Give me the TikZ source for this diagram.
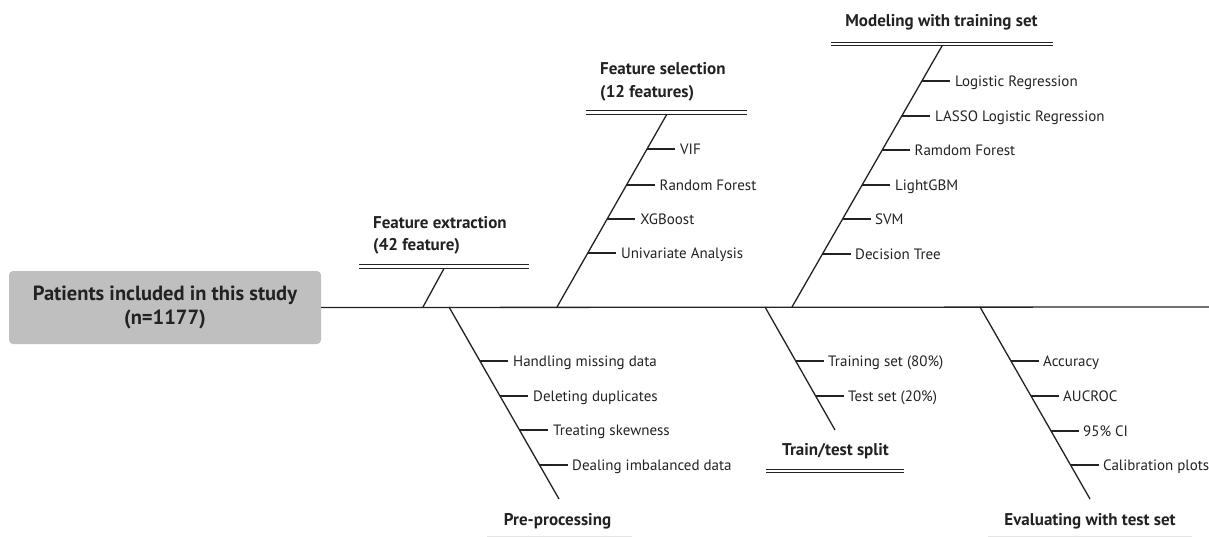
\documentclass[tikz,border=0pt]{standalone}
\usepackage{fontspec}
\setmainfont{PT Sans}
\definecolor{boxgray}{HTML}{BFBFBF}
\definecolor{ink}{HTML}{222222}
\begin{document}
\begin{tikzpicture}[x=1pt,y=-1pt,
  bone/.style={line width=1.3pt, draw=ink},
  tick/.style={line width=1.1pt, draw=ink},
  twin/.style={double, double distance=2.4pt, line width=1pt, draw=ink},
  faint/.style={line width=1pt, draw=black!10},
  item/.style={anchor=base west, inner sep=0, text=ink, font=\fontsize{15}{18}\selectfont},
  head/.style={anchor=base, inner sep=0, text=ink, font=\bfseries\fontsize{17}{20}\selectfont},
  headw/.style={anchor=base west, inner sep=0, text=ink, font=\bfseries\fontsize{17}{20}\selectfont},
  ]
\useasboundingbox (0,0) rectangle (1209,537);

% start box and spine
\node[fill=boxgray, rounded corners=4pt, minimum width=312pt, minimum height=73pt,
      inner sep=0, align=center, text=ink,
      font=\bfseries\fontsize{20.5}{24}\selectfont] (start) at (165,307.5)
      {Patients included in this study\\(n=1177)};
\coordinate (spineend) at (1209,307);
\draw[bone] (start.east) -- (spineend);

% ---------- Feature extraction ----------
\coordinate (fxb) at (423,307);
\coordinate (fxt) at (444,268.5);
\coordinate (fxl) at (359,266.5);
\coordinate (fxr) at (529,266.5);
\draw[bone] (fxb) -- (fxt);
\draw[twin] (fxl) -- (fxr);
\node[headw] (fxh1) at (373,229) {Feature extraction};
\node[headw] (fxh2) at (373,251) {(42 feature)};

% ---------- Feature selection ----------
\coordinate (fsb) at (557,307);
\coordinate (fst) at (667,114);
\coordinate (fsl) at (586,112.5);
\coordinate (fsr) at (747,112.5);
\draw[bone] (fsb) -- (fst);
\draw[twin] (fsl) -- (fsr);
\node[headw] (fsh1) at (600,75) {Feature selection};
\node[headw] (fsh2) at (600,98) {(12 features)};
\coordinate (fs1) at (647.1,149); \coordinate (fs1e) at (675.1,149);
\coordinate (fs2) at (626.5,185); \coordinate (fs2e) at (654.5,185);
\coordinate (fs3) at (607.2,219); \coordinate (fs3e) at (635.2,219);
\coordinate (fs4) at (587.8,253); \coordinate (fs4e) at (615.8,253);
\draw[tick] (fs1) -- (fs1e); \draw[tick] (fs2) -- (fs2e);
\draw[tick] (fs3) -- (fs3e); \draw[tick] (fs4) -- (fs4e);
\node[item] (fsa) at (680,154.5) {VIF};
\node[item] (fsb2) at (659.5,190.5) {Random Forest};
\node[item] (fsc) at (640.2,224.5) {XGBoost};
\node[item] (fsd) at (620.8,258.5) {Univariate Analysis};

% ---------- Modeling with training set ----------
\coordinate (mdb) at (792,307);
\coordinate (mdt) at (942,46);
\coordinate (mdl) at (831,44);
\coordinate (mdr) at (1053,44);
\draw[bone] (mdb) -- (mdt);
\draw[twin] (mdl) -- (mdr);
\node[head] (mdh) at (941.5,27) {Modeling with training set};
\coordinate (md1) at (921.9,81);  \coordinate (md1e) at (949.9,81);
\coordinate (md2) at (901.8,116); \coordinate (md2e) at (929.8,116);
\coordinate (md3) at (882.2,150); \coordinate (md3e) at (910.2,150);
\coordinate (md4) at (862.1,185); \coordinate (md4e) at (890.1,185);
\coordinate (md5) at (842.6,219); \coordinate (md5e) at (870.6,219);
\coordinate (md6) at (822.5,254); \coordinate (md6e) at (850.5,254);
\draw[tick] (md1) -- (md1e); \draw[tick] (md2) -- (md2e);
\draw[tick] (md3) -- (md3e); \draw[tick] (md4) -- (md4e);
\draw[tick] (md5) -- (md5e); \draw[tick] (md6) -- (md6e);
\node[item] (mda) at (955,86.5) {Logistic Regression};
\node[item] (mdb2) at (935,121.5) {LASSO Logistic Regression};
\node[item] (mdc) at (914.5,155.5) {Ramdom Forest};
\node[item] (mdd) at (895,190.5) {LightGBM};
\node[item] (mde) at (875,224.5) {SVM};
\node[item] (mdf) at (855,259.5) {Decision Tree};

% ---------- Pre-processing ----------
\coordinate (ppb) at (449,307);
\coordinate (ppt) at (559,499);
\draw[bone] (ppb) -- (ppt);
\node[head] (pph) at (557.5,525) {Pre-processing};
\coordinate (ppl) at (487,536); \coordinate (ppr) at (632,536);
\draw[faint] (ppl) -- (ppr);
\coordinate (pp1) at (479.9,361); \coordinate (pp1e) at (507.9,361);
\coordinate (pp2) at (500,396);   \coordinate (pp2e) at (528,396);
\coordinate (pp3) at (519.5,430); \coordinate (pp3e) at (547.5,430);
\coordinate (pp4) at (539.5,465); \coordinate (pp4e) at (567.5,465);
\draw[tick] (pp1) -- (pp1e); \draw[tick] (pp2) -- (pp2e);
\draw[tick] (pp3) -- (pp3e); \draw[tick] (pp4) -- (pp4e);
\node[item] (ppa) at (513,366.5) {Handling missing data};
\node[item] (ppb2) at (533,401.5) {Deleting duplicates};
\node[item] (ppc) at (553,435.5) {Treating skewness};
\node[item] (ppd) at (572,470.5) {Dealing imbalanced data};

% ---------- Train/test split ----------
\coordinate (ttb) at (765,307);
\coordinate (ttt) at (835,430);
\draw[bone] (ttb) -- (ttt);
\node[head] (tth) at (835.5,455) {Train/test split};
\coordinate (ttl) at (766,471); \coordinate (ttr) at (904,471);
\draw[twin] (ttl) -- (ttr);
\coordinate (tt1) at (795.7,361); \coordinate (tt1e) at (823.7,361);
\coordinate (tt2) at (815.7,396); \coordinate (tt2e) at (843.7,396);
\draw[tick] (tt1) -- (tt1e); \draw[tick] (tt2) -- (tt2e);
\node[item] (tta) at (828,366.5) {Training set (80\%)};
\node[item] (ttb2) at (848,401.5) {Test set (20\%)};

% ---------- Evaluating with test set ----------
\coordinate (evb) at (980,307);
\coordinate (evt) at (1090,499);
\draw[bone] (evb) -- (evt);
\node[head] (evh) at (1090,525) {Evaluating with test set};
\coordinate (evl) at (988,536); \coordinate (evr) at (1192,536);
\draw[faint] (evl) -- (evr);
\coordinate (ev1) at (1010.9,361); \coordinate (ev1e) at (1038.9,361);
\coordinate (ev2) at (1031,396);   \coordinate (ev2e) at (1059,396);
\coordinate (ev3) at (1051,431);   \coordinate (ev3e) at (1079,431);
\coordinate (ev4) at (1070.5,465); \coordinate (ev4e) at (1098.5,465);
\draw[tick] (ev1) -- (ev1e); \draw[tick] (ev2) -- (ev2e);
\draw[tick] (ev3) -- (ev3e); \draw[tick] (ev4) -- (ev4e);
\node[item] (eva) at (1043,366.5) {Accuracy};
\node[item] (evb2) at (1063,401.5) {AUCROC};
\node[item] (evc) at (1083,436.5) {95\% CI};
\node[item] (evd) at (1103,470.5) {Calibration plots};
\end{tikzpicture}
\end{document}
